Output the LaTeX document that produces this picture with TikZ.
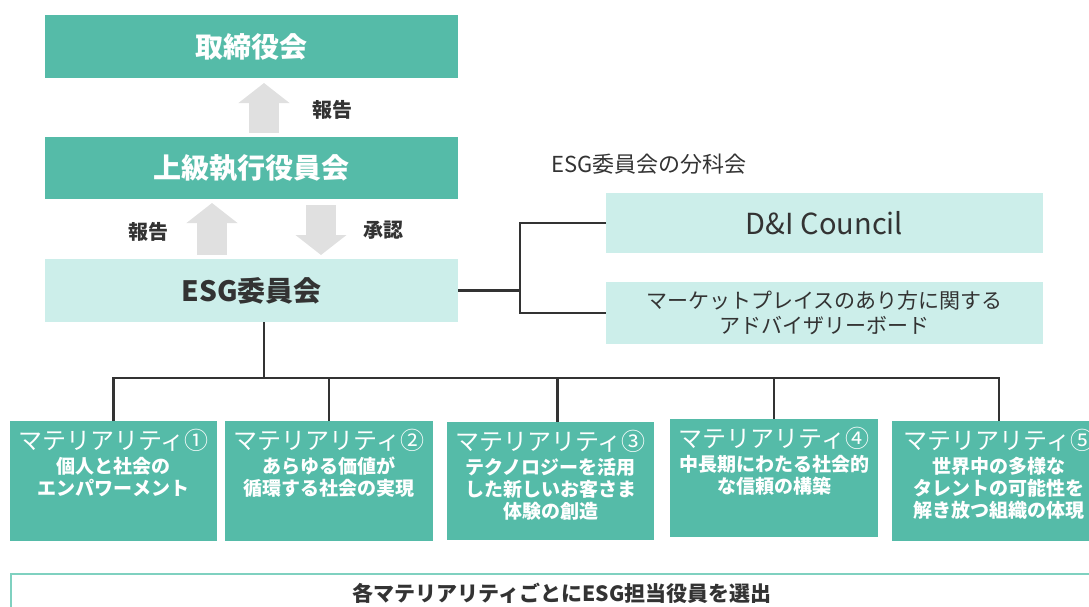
\documentclass[tikz,border=0pt]{standalone}
\usepackage{fontspec}
\setmainfont{Noto Sans CJK JP}
\usetikzlibrary{arrows.meta}

\definecolor{boardteal}{HTML}{55BBA8}
\definecolor{paleteal}{HTML}{CCEEEA}
\definecolor{arrowgray}{HTML}{E0E0E0}
\definecolor{inkgray}{HTML}{333333}
\definecolor{frameteal}{HTML}{7FD1C0}

\begin{document}
\begin{tikzpicture}[
  x=1pt,
  y=-1pt,
  inner sep=0pt,
  outer sep=0pt,
  boardbox/.style={
    anchor=north west,
    fill=boardteal,
    text=white,
    minimum width=413pt,
    font=\bfseries\fontsize{28}{32}\selectfont,
  },
  esgbox/.style={
    anchor=north west,
    fill=paleteal,
    text=inkgray,
  },
  material/.style={
    anchor=north west,
    fill=boardteal,
  },
  mattitle/.style={
    anchor=north,
    yshift=-8pt,
    text=white,
    font=\fontsize{24}{28}\selectfont,
  },
  matbody/.style={
    anchor=north,
    yshift=-36pt,
    align=center,
    text=white,
    font=\bfseries\fontsize{19}{22}\selectfont,
  },
  flowlabel/.style={
    anchor=center,
    text=inkgray,
    font=\bfseries\fontsize{20}{24}\selectfont,
  },
  flowarrow/.style={
    arrowgray,
    line width=30pt,
    -{Triangle[width=50pt, length=20pt]},
  },
  orgline/.style={
    draw=inkgray,
    line width=2.5pt,
  },
]
  \useasboundingbox (0,0) rectangle (1089,606);
  \clip (0,0) rectangle (1089,606);

  \node[boardbox, minimum height=63pt] (board) at (45,15) {取締役会};
  \node[boardbox, minimum height=62pt] (exec) at (45,137) {上級執行役員会};
  \node[esgbox, minimum width=413pt, minimum height=63pt,
    font=\bfseries\fontsize{28}{32}\selectfont] (esg) at (45,259) {ESG委員会};

  \draw[flowarrow] ([shift={(12.5,-4)}]exec.north) -- ([shift={(12.5,5)}]board.south);
  \draw[flowarrow] ([shift={(-39.5,-4)}]esg.north) -- ([shift={(-39.5,4)}]exec.south);
  \draw[flowarrow] ([shift={(69.5,6)}]exec.south) -- ([shift={(69.5,-4)}]esg.north);
  \node[flowlabel] (rep1) at (332,110) {報告};
  \node[flowlabel] (rep2) at (148,232) {報告};
  \node[flowlabel] (appr) at (383,230) {承認};

  \node[anchor=center, text=inkgray, font=\fontsize{22}{26}\selectfont]
    (subhead) at (649,164) {ESG委員会の分科会};
  \node[esgbox, minimum width=437pt, minimum height=60pt,
    font=\fontsize{29}{33}\selectfont] (dni) at (606,193) {D\&I Council};
  \node[esgbox, minimum width=437pt, minimum height=62pt, align=center,
    font=\fontsize{21}{25}\selectfont] (mkt) at (606,282)
    {マーケットプレイスのあり方に関する\\アドバイザリーボード};

  \coordinate (fork) at ([xshift=62pt]esg.east);
  \draw[orgline] (esg.east) -- (fork);
  \draw[orgline] (dni.west) -| (fork) |- (mkt.west);

  \foreach \name/\xpos/\ypos/\wid/\hgt/\num/\body in {
      m1/10/421/207/120/①/個人と社会の\\エンパワーメント,
      m2/225/421/208/120/②/あらゆる価値が\\循環する社会の実現,
      m3/447/422/207/118/③/テクノロジーを活用\\した新しいお客さま\\体験の創造,
      m4/670/419/208/118/④/中長期にわたる社会的\\な信頼の構築,
      m5/892/421/214/120/⑤/世界中の多様な\\タレントの可能性を\\解き放つ組織の体現%
    } {
      \node[material, minimum width=\wid pt, minimum height=\hgt pt,
        label={[mattitle]north:マテリアリティ\num},
        label={[matbody]north:\body},
      ] (\name) at (\xpos,\ypos) {};
    }

  \draw[orgline] ([xshift=12.5pt]esg.south) -- ++(0,56) coordinate (bus);
  \draw[orgline] (m1.north) |- (bus) -| (m5.north);
  \foreach \name/\dx in {m2/0,m3/7,m4/0} {
    \coordinate (drop) at ([xshift=\dx pt]\name.north);
    \draw[orgline] (bus -| drop) -- (drop);
  }

  \node[anchor=north west, draw=frameteal, line width=2.5pt,
    minimum width=1102pt, minimum height=38pt, text=inkgray,
    font=\bfseries\fontsize{21}{25}\selectfont]
    (pick) at (11,574) {各マテリアリティごとにESG担当役員を選出};
\end{tikzpicture}
\end{document}
